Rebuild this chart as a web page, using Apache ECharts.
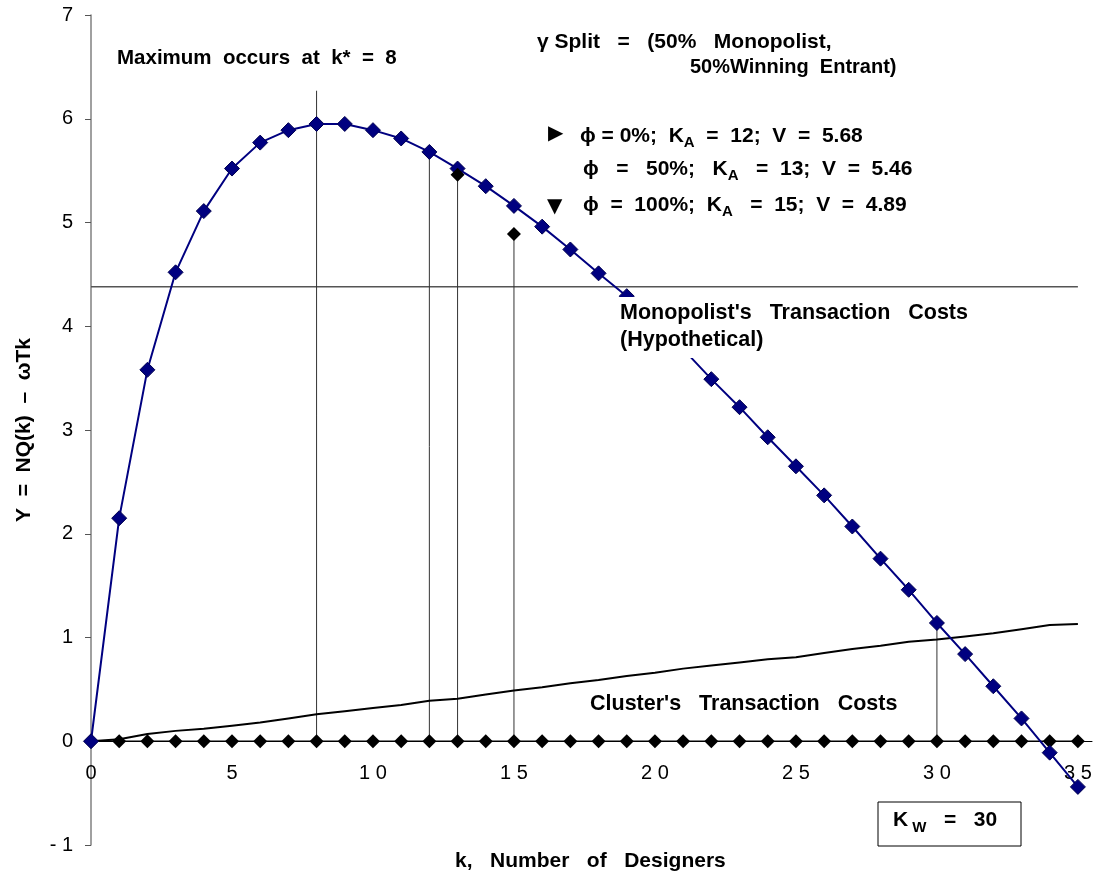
<!DOCTYPE html>
<html>
<head>
<meta charset="utf-8">
<script src="https://cdn.jsdelivr.net/npm/echarts@6/dist/echarts.min.js"></script>
<style>
  html, body { margin: 0; padding: 0; background: #fff; }
  #chart { width: 1096px; height: 880px; }
</style>
</head>
<body>
<div id="chart"></div>
<script>
  // k = 0 .. 35
  var kValues = [];
  for (var i = 0; i <= 35; i++) kValues.push(i);

  // Y = NQ(k) - wTk  (blue curve)
  var yValues = [0, 2.15, 3.58, 4.52, 5.11, 5.52, 5.77, 5.89, 5.95, 5.95,
    5.89, 5.81, 5.68, 5.52, 5.35, 5.16, 4.96, 4.74, 4.51, 4.29,
    4.05, 3.78, 3.49, 3.22, 2.93, 2.65, 2.37, 2.07, 1.76, 1.46,
    1.14, 0.84, 0.53, 0.22, -0.11, -0.44];

  // cluster's transaction costs
  var clusterCosts = [0, 0.02, 0.07, 0.10, 0.12, 0.15, 0.18, 0.22, 0.26, 0.29,
    0.32, 0.35, 0.39, 0.41, 0.45, 0.49, 0.52, 0.56, 0.59, 0.63,
    0.66, 0.70, 0.73, 0.76, 0.79, 0.81, 0.85, 0.89, 0.92, 0.96,
    0.98, 1.01, 1.04, 1.08, 1.12, 1.13];

  // entrant points (phi = 50%, 100%)
  var entrantK = [13, 15];
  var entrantV = [5.46, 4.89];

  // vertical drop lines
  var dropK = [8, 12, 13, 15, 30];
  var dropTop = [6.27, 5.68, 5.46, 4.89, 1.14];

  // monopolist's transaction costs (hypothetical)
  var monopolistCost = 4.38;

  var xTicks = [0, 5, 10, 15, 20, 25, 30, 35];

  var FONT = '"Liberation Sans", Arial, sans-serif';
  var GRID_TOP = 15, GRID_BOTTOM = 35, Y_MIN = -1, Y_MAX = 7;
  // shift the x axis up to y = 0
  var zeroOffset = (880 - GRID_TOP - GRID_BOTTOM) * (0 - Y_MIN) / (Y_MAX - Y_MIN);

  var chart = echarts.init(document.getElementById('chart'));

  function pairs(xs, ys) {
    return xs.map(function (x, i) { return [x, ys[i]]; });
  }

  var dropSeries = dropK.map(function (k, i) {
    return {
      type: 'line',
      data: [[k, 0], [k, dropTop[i]]],
      symbol: 'none',
      silent: true,
      z: 1,
      lineStyle: { color: '#333', width: 1 }
    };
  });

  var richLegend = {
    t: { fontFamily: FONT, fontWeight: 'bold', fontSize: 21, lineHeight: 28, verticalAlign: 'middle', fill: '#000' },
    s: { fontFamily: FONT, fontWeight: 'bold', fontSize: 15, verticalAlign: 'bottom', fill: '#000' }
  };

  chart.setOption({
    animation: false,
    grid: { left: 91, right: 4, top: GRID_TOP, bottom: GRID_BOTTOM },
    xAxis: {
      type: 'value',
      min: 0,
      max: 35.5,
      interval: 5,
      position: 'bottom',
      offset: -zeroOffset,
      axisLine: { onZero: false, lineStyle: { color: '#000', width: 1 } },
      axisTick: { show: false },
      splitLine: { show: false },
      axisLabel: {
        margin: 22,
        color: '#000',
        fontFamily: FONT,
        fontSize: 20,
        formatter: function (v) {
          if (xTicks.indexOf(v) < 0) return '';
          return String(v).split('').join(' ');
        }
      }
    },
    yAxis: {
      type: 'value',
      min: Y_MIN,
      max: Y_MAX,
      interval: 1,
      name: 'Y  =  NQ(k)  –  ωTk',
      nameLocation: 'middle',
      nameGap: 56,
      nameTextStyle: { fontFamily: FONT, fontWeight: 'bold', fontSize: 21, color: '#000' },
      axisLine: { show: true, lineStyle: { color: '#808080', width: 1.5 } },
      axisTick: { show: true, length: 6, lineStyle: { color: '#555' } },
      splitLine: { show: false },
      axisLabel: {
        margin: 18,
        color: '#000',
        fontFamily: FONT,
        fontSize: 20,
        formatter: function (v) { return v < 0 ? '- ' + Math.abs(v) : String(v); }
      }
    },
    series: [
      {
        type: 'line',
        data: pairs(kValues, clusterCosts),
        symbol: 'none',
        z: 2,
        lineStyle: { color: '#000', width: 2 }
      },
      {
        type: 'line',
        data: pairs([0, 35], [monopolistCost, monopolistCost]),
        symbol: 'none',
        z: 1,
        lineStyle: { color: '#555', width: 1.5 }
      },
      {
        type: 'line',
        data: kValues.map(function (k) { return [k, 0]; }),
        symbol: 'diamond',
        symbolSize: 14,
        z: 3,
        itemStyle: { color: '#000' },
        lineStyle: { color: '#000', width: 1.5 }
      },
      {
        type: 'line',
        data: pairs(kValues, yValues),
        symbol: 'diamond',
        symbolSize: 15,
        z: 4,
        itemStyle: { color: '#000080', borderColor: '#000050', borderWidth: 1 },
        lineStyle: { color: '#000080', width: 2 }
      },
      {
        type: 'scatter',
        data: pairs(entrantK, entrantV),
        symbol: 'diamond',
        symbolSize: 14,
        z: 5,
        itemStyle: { color: '#000', opacity: 1 }
      }
    ].concat(dropSeries),
    graphic: [
      {
        type: 'text', left: 117, top: 48, z: 100,
        style: { text: 'Maximum  occurs  at  k*  =  8', font: 'bold 20.5px ' + FONT, fill: '#000' }
      },
      {
        type: 'text', left: 537, top: 32, z: 100,
        style: { text: 'γ Split   =   (50%   Monopolist,', font: 'bold 21px ' + FONT, fill: '#000' }
      },
      {
        type: 'text', left: 690, top: 57, z: 100,
        style: { text: '50%Winning  Entrant)', font: 'bold 20px ' + FONT, fill: '#000' }
      },
      {
        type: 'text', left: 548, top: 124, z: 100,
        style: { text: '▶', font: '20px "DejaVu Sans"', fill: '#000' }
      },
      {
        type: 'text', left: 547, top: 197, z: 100,
        style: { text: '▼', font: '20px "DejaVu Sans"', fill: '#000' }
      },
      {
        type: 'text', left: 580, top: 126, z: 100,
        style: { text: '{t|ϕ = 0%;  K}{s|A}{t|  =  12;  V  =  5.68}', rich: richLegend }
      },
      {
        type: 'text', left: 583, top: 159, z: 100,
        style: { text: '{t|ϕ   =   50%;   K}{s|A}{t|   =  13;  V  =  5.46}', rich: richLegend }
      },
      {
        type: 'text', left: 583, top: 195, z: 100,
        style: { text: '{t|ϕ  =  100%;  K}{s|A}{t|   =  15;  V  =  4.89}', rich: richLegend }
      },
      {
        type: 'rect', z: 90,
        shape: { x: 612, y: 297, width: 375, height: 61 },
        style: { fill: '#fff' }
      },
      {
        type: 'text', left: 620, top: 300, z: 100,
        style: { text: "Monopolist's   Transaction   Costs\n(Hypothetical)", font: 'bold 21.5px ' + FONT, lineHeight: 27, fill: '#000' }
      },
      {
        type: 'text', left: 590, top: 693, z: 100,
        style: { text: "Cluster's   Transaction   Costs", font: 'bold 21.5px ' + FONT, fill: '#000' }
      },
      {
        type: 'rect', z: 100,
        shape: { x: 878, y: 802, width: 143, height: 44 },
        style: { fill: '#fff', stroke: '#000', lineWidth: 1 }
      },
      {
        type: 'text', left: 893, top: 810, z: 101,
        style: {
          text: '{t|K}{s| W}{t|   =   30}',
          rich: {
            t: { fontFamily: FONT, fontWeight: 'bold', fontSize: 21, lineHeight: 29, verticalAlign: 'middle', fill: '#000' },
            s: { fontFamily: FONT, fontWeight: 'bold', fontSize: 15, verticalAlign: 'bottom', fill: '#000' }
          }
        }
      },
      {
        type: 'text', left: 455, top: 851, z: 100,
        style: { text: 'k,   Number   of   Designers', font: 'bold 21px ' + FONT, fill: '#000' }
      }
    ]
  });
</script>
</body>
</html>
